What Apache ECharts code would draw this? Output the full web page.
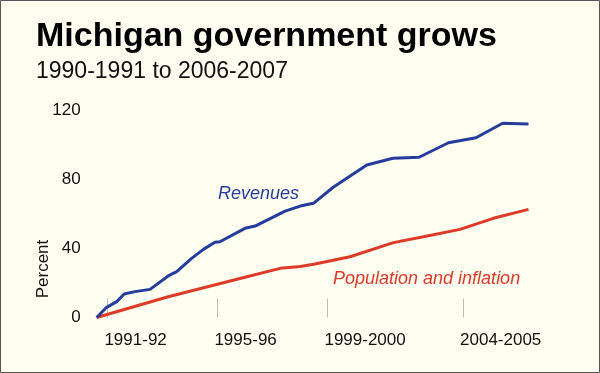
<!DOCTYPE html>
<html>
<head>
<meta charset="utf-8">
<script src="https://cdn.jsdelivr.net/npm/echarts@6/dist/echarts.min.js"></script>
<style>
html,body{margin:0;padding:0;background:#fefef1;}
#chart{width:600px;height:373px;}
</style>
</head>
<body>
<div id="chart"></div>
<script>
// Data (x = fiscal-year position, y = percent growth)
var revenueYears = [1990.6, 1990.96, 1991.33, 1991.6, 1991.99, 1992.54, 1993.2, 1993.51, 1994.05, 1994.48, 1994.9, 1995.08, 1995.99, 1996.36, 1997.45, 1998.0, 1998.48, 1999.2, 2000.42, 2001.37, 2002.32, 2003.39, 2004.39, 2005.36, 2006.3];
var revenueValues = [0, 5.9, 9.2, 13.6, 15.0, 16.3, 24.1, 26.6, 34.3, 39.5, 43.6, 43.9, 51.7, 53.0, 61.7, 64.6, 66.2, 75.5, 88.4, 92.3, 92.9, 101.3, 104.2, 112.6, 112.2];
var popInflYears = [1990.6, 1993.2, 1995.99, 1997.27, 1998.0, 1998.54, 1999.81, 2001.39, 2002.48, 2003.81, 2005.02, 2006.3];
var popInflValues = [0, 12.0, 23.3, 28.5, 29.6, 31.0, 35.2, 43.4, 46.8, 51.1, 57.5, 62.7];
var tickYears = [1991, 1995, 1999, 2003.93];
var tickLabels = ['1991-92', '1995-96', '1999-2000', '2004-2005'];

var FONT = '"Liberation Sans", Arial, Helvetica, sans-serif';
function pairs(xs, ys) { return xs.map(function (x, i) { return [x, ys[i]]; }); }
var labelYears = tickYears.map(function (v) { return v - 0.12; });

var chart = echarts.init(document.getElementById('chart'), null, {renderer: 'canvas'});
chart.setOption({
  backgroundColor: '#fefef1',
  animation: false,
  textStyle: {fontFamily: FONT},
  title: [
    {text: 'Michigan government grows', left: 31, top: 15,
     textStyle: {fontFamily: FONT, fontSize: 34, fontWeight: 'bold', color: '#000'}},
    {text: '1990-1991 to 2006-2007', left: 31, top: 55,
     textStyle: {fontFamily: FONT, fontSize: 23, fontWeight: 'normal', color: '#111'}}
  ],
  grid: {left: 96.7, right: 71.5, top: 110.5, bottom: 55.5, containLabel: false},
  xAxis: {
    type: 'value', min: 1990.6, max: 2006.3,
    offset: 6.5,
    axisLine: {show: false},
    splitLine: {show: false},
    axisTick: {show: true, inside: true, length: 19, customValues: tickYears,
               lineStyle: {color: '#bbbbbb', width: 1}},
    axisLabel: {customValues: labelYears, align: 'left', margin: 8,
                fontSize: 17, color: '#111', fontFamily: FONT,
                formatter: function (v, i) {
                  var k = labelYears.indexOf(v);
                  return k >= 0 ? tickLabels[k] : tickLabels[i];
                }}
  },
  yAxis: {
    type: 'value', min: 0, max: 120, interval: 40,
    axisLine: {show: false}, axisTick: {show: false}, splitLine: {show: false},
    axisLabel: {fontSize: 17, color: '#111', margin: 16, fontFamily: FONT}
  },
  series: [
    {name: 'Population and inflation', type: 'line', data: pairs(popInflYears, popInflValues),
     showSymbol: false, lineStyle: {color: '#dc3b28', width: 3}, z: 2},
    {name: 'Revenues', type: 'line', data: pairs(revenueYears, revenueValues),
     showSymbol: false, lineStyle: {color: '#263c9c', width: 3}, z: 3}
  ],
  graphic: [
    {type: 'text', x: 43, y: 269, rotation: Math.PI / 2,
     style: {text: 'Percent', fill: '#111', font: '17px ' + FONT, align: 'center', verticalAlign: 'middle'}},
    {type: 'text', left: 218, top: 185,
     style: {text: 'Revenues', fill: '#263c9c', font: 'italic 18px ' + FONT}},
    {type: 'text', left: 333, top: 270,
     style: {text: 'Population and inflation', fill: '#dc3b28', font: 'italic 18px ' + FONT}},
    {type: 'rect', shape: {x: 0.5, y: 0.5, width: 599, height: 372}, silent: true,
     style: {fill: 'none', stroke: '#555', lineWidth: 1}}
  ]
});
</script>
</body>
</html>
